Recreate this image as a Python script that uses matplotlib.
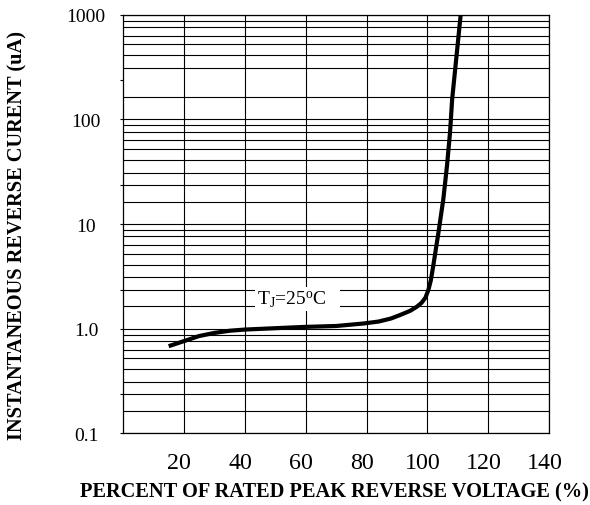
import matplotlib
matplotlib.use("Agg")
import matplotlib.pyplot as plt
import matplotlib.ticker as mticker
from matplotlib.transforms import ScaledTranslation

plt.rcParams['font.family'] = ['Liberation Serif', 'DejaVu Serif']
plt.rcParams['mathtext.fontset'] = 'custom'
plt.rcParams['mathtext.rm'] = 'Liberation Serif'
plt.rcParams['mathtext.it'] = 'Liberation Serif:italic'

# ---- data ----
voltage_pct = [15, 20, 25, 30, 35, 40, 50, 60, 70, 79, 84, 88, 91, 94.3, 96.5,
               98, 99.3, 100.3, 101.1, 101.9, 103.6, 105.2, 106.4, 107.4, 108.1, 110.9]
current_ua = [0.68, 0.76, 0.85, 0.91, 0.955, 0.98, 1.01, 1.04, 1.06, 1.12, 1.17,
              1.25, 1.35, 1.48, 1.62, 1.76, 1.97, 2.35, 2.9, 4.0, 8.3, 17.3, 36, 75, 156, 1000]

x_ticks = [20, 40, 60, 80, 100, 120, 140]
x_tick_labels = ['20', '40', '60', '80', '100', '120', '140']
y_ticks = [0.1, 1, 10, 100, 1000]
y_tick_labels = ['0.1', '1.0', '10', '100', '1000']
grid_fracs = [1.63, 2.36, 3.1, 4.1, 5.2, 6.3, 7.65, 8.75]
decades = [0.1, 1, 10, 100]

fig = plt.figure(figsize=(5.9, 5.06), dpi=100)
ax = fig.add_axes([123/590, 1-434.3/506, (549.3-123)/590, (434.3-15.7)/506])

ax.plot(voltage_pct, current_ua, color='black', lw=3.0, solid_capstyle='butt',
        solid_joinstyle='round', zorder=5)

ax.set_yscale('log')
ax.set_xlim(0, 140)
ax.set_ylim(0.1, 1000)

ax.set_xticks(x_ticks)
ax.set_xticklabels(x_tick_labels, fontsize=17.3)
ax.set_yticks(y_ticks)
ax.set_yticklabels(y_tick_labels, fontsize=14)

minor_vals = [d * f for d in decades for f in grid_fracs]
minor_is_mid = [abs(f - 2.36) < 1e-9 for d in decades for f in grid_fracs]
minor_is_top = [d == 100 for d in decades for f in grid_fracs]
ax.yaxis.set_minor_locator(mticker.FixedLocator(minor_vals))
ax.yaxis.set_minor_formatter(mticker.NullFormatter())

ax.tick_params(axis='x', which='major', length=0, pad=13.5)
ax.tick_params(axis='y', which='major', length=2.5, width=0.8, pad=24.0, direction='out')
ax.tick_params(axis='y', which='minor', length=0, width=0.8, direction='out')

for lab in ax.get_yticklabels():
    lab.set_horizontalalignment('center')
for lab in ax.get_xticklabels():
    lab.set_transform(lab.get_transform() + ScaledTranslation(-4.5/100, 0, fig.dpi_scale_trans))

ax.grid(True, which='major', axis='both', color='black', lw=0.8, zorder=1)
ax.grid(True, which='minor', axis='y', color='black', lw=0.8, zorder=1)
ax.set_axisbelow(True)

for t, mid, top in zip(ax.yaxis.get_minor_ticks(), minor_is_mid, minor_is_top):
    if mid:
        t.tick1line.set_markersize(2.5)
        if top:
            t.gridline.set_visible(False)

for s in ax.spines.values():
    s.set_linewidth(0.9)
    s.set_color('black')

ax.text(44.1, 1.71, r'T$_\mathrm{J}$=25$^\mathrm{o}$C   ', fontsize=14, ha='left',
        va='baseline', zorder=4,
        bbox=dict(boxstyle='square,pad=0.1', facecolor='white', edgecolor='none'))

fig.text(334/590, 1-492.5/506, 'PERCENT OF RATED PEAK REVERSE VOLTAGE (%)',
         fontsize=14.7, fontweight='bold', ha='center', va='center')
fig.text(17.5/590, 1-236/506, 'INSTANTANEOUS REVERSE CURENT (uA)',
         fontsize=14.7, fontweight='bold', ha='center', va='center', rotation=90)

fig.savefig('out.png', dpi=100, facecolor='white')
